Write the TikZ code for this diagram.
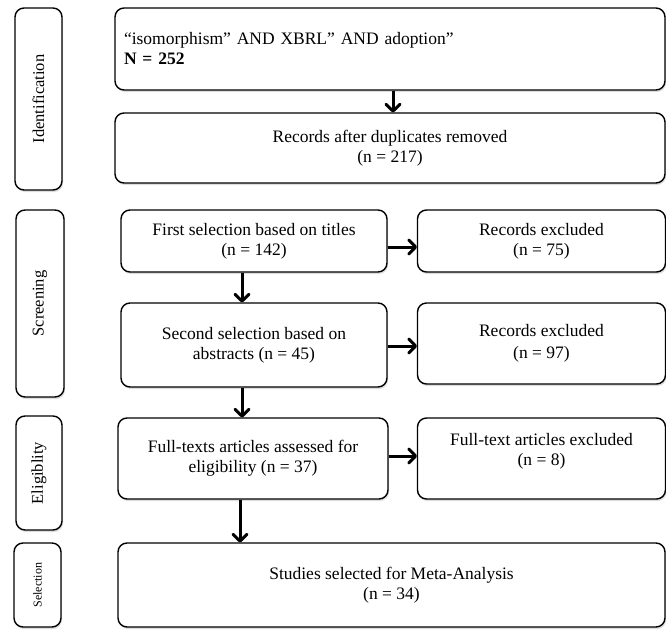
\documentclass[tikz,border=0pt]{standalone}
\usepackage{fontspec}
\setmainfont{Liberation Serif}
\usetikzlibrary{shadows}
% a chevron head at a named point, opening against the given direction
\newcommand\chevdown[1]{\draw[head] ([shift={(-7,-8)}]#1) -- ([shift={(0,-1.2)}]#1) -- ([shift={(7,-8)}]#1);}
\newcommand\chevright[1]{\draw[head] ([shift={(-8,-7)}]#1) -- ([shift={(-1.2,0)}]#1) -- ([shift={(-8,7)}]#1);}
\begin{document}
\begin{tikzpicture}[x=1pt,y=-1pt,
  box/.style={draw=black, line width=1.4pt, rounded corners=9pt, fill=white,
    inner sep=0pt, align=center,
    drop shadow={shadow xshift=1pt, shadow yshift=-2pt, opacity=0.22, fill=black!60},
    font=\fontsize{17.5}{20}\selectfont},
  stage/.style={box},
  stagetext/.style={rotate=90, font=\fontsize{16.5}{18}\selectfont},
  arr/.style={line width=3pt},
  head/.style={line width=3pt, line join=round, line cap=round}]
\useasboundingbox (0,0) rectangle (666,629);

% stage labels on the left
\node[stage, minimum width=47pt, minimum height=182pt] (ident) at (38.5,99) {};
\node[stagetext] (identt) at (ident.center) {Identification};
\node[stage, minimum width=48pt, minimum height=187pt] (screen) at (40,303.5) {};
\node[stagetext] (screent) at (screen.center) {Screening};
\node[stage, minimum width=46pt, minimum height=114pt] (elig) at (39,473) {};
\node[stagetext] (eligt) at (elig.center) {Eligiblity};
\node[stage, minimum width=47pt, minimum height=84pt] (sel) at (37.5,585) {};
\node[stagetext, font=\fontsize{12}{14}\selectfont] (selt) at (sel.center) {Selection};

% flow boxes
\node[box, minimum width=550pt, minimum height=82pt, align=left, text width=532pt] (search) at (390,49)
  {“isomorphism” AND XBRL” AND adoption”\\ \textbf{N = 252}};
\node[box, minimum width=550pt, minimum height=70pt] (dedup) at (390,148)
  {Records after duplicates removed\\ (n = 217)};
\node[box, minimum width=266pt, minimum height=62pt] (first) at (254,241)
  {First selection based on titles\\ (n = 142)};
\node[box, minimum width=248pt, minimum height=62pt] (excla) at (541.5,241)
  {Records excluded\\ (n = 75)};
\node[box, minimum width=266pt, minimum height=84pt] (second) at (254,345)
  {Second selection based on\\ abstracts (n = 45)};
\node[box, minimum width=248pt, minimum height=81pt] (exclb) at (541.5,343.5)
  {Records excluded\\[2pt] (n = 97)};
\node[box, minimum width=270pt, minimum height=81pt] (full) at (253,458.5)
  {Full-texts articles assessed for\\ eligibility (n = 37)};
\node[box, minimum width=248pt, minimum height=81pt, text depth=18pt] (exclc) at (541.5,458.5)
  {Full-text articles excluded\\ (n = 8)};
\node[box, minimum width=547pt, minimum height=84pt] (final) at (391.5,585)
  {Studies selected for Meta-Analysis\\ (n = 34)};

% connector end points
\coordinate (cx) at (393,0);
\coordinate (lx) at (242,0);
\coordinate (fx) at (240,0);
\coordinate (ya) at (0,247);
\coordinate (yb) at (0,346);
\coordinate (yc) at (0,456);
\coordinate (d1) at (dedup.north -| cx);
\coordinate (d2) at (second.north -| lx);
\coordinate (d3) at (full.north -| lx);
\coordinate (d4) at (final.north -| fx);
\coordinate (r1) at (excla.west |- ya);
\coordinate (r2) at (exclb.west |- yb);
\coordinate (r3) at (exclc.west |- yc);

% connectors
\draw[arr] (search.south -| cx) -- ([yshift=1.5pt]d1);
\draw[arr] (first.south -| lx) -- ([yshift=1.5pt]d2);
\draw[arr] (second.south -| lx) -- ([yshift=1.5pt]d3);
\draw[arr] (full.south -| fx) -- ([yshift=1.5pt]d4);
\draw[arr] (first.east |- ya) -- ([xshift=-1.5pt]r1);
\draw[arr] (second.east |- yb) -- ([xshift=-1.5pt]r2);
\draw[arr] (full.east |- yc) -- ([xshift=-1.5pt]r3);
\chevdown{d1}
\chevdown{d2}
\chevdown{d3}
\chevdown{d4}
\chevright{r1}
\chevright{r2}
\chevright{r3}
\end{tikzpicture}
\end{document}
